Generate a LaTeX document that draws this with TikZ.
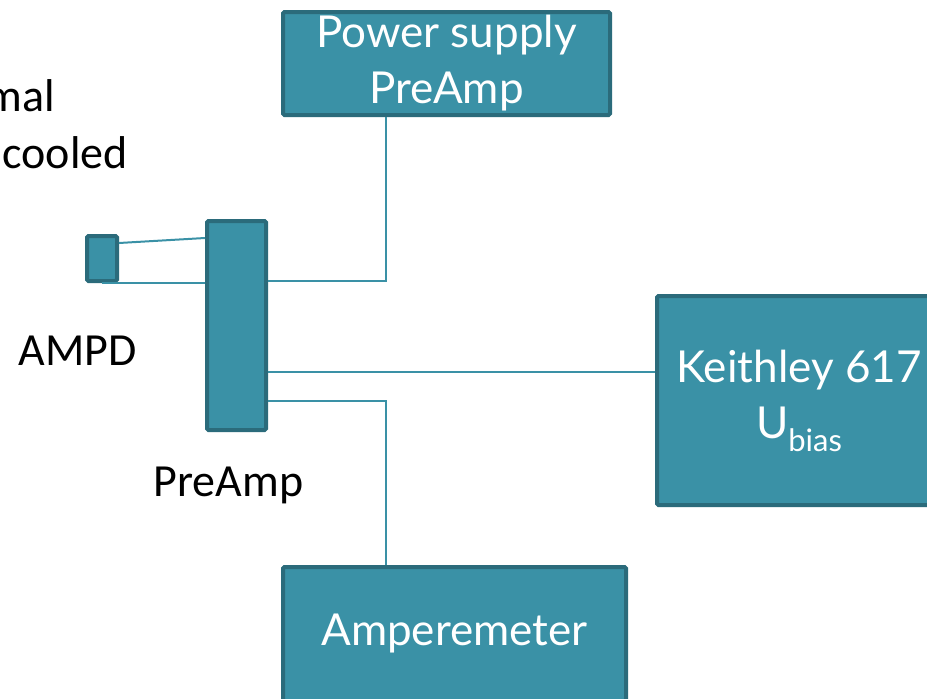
\documentclass[tikz,border=0pt]{standalone}
\usepackage{fontspec}
\setmainfont{Carlito}
\newfontfamily\boxfont{Lato}
\definecolor{boxfill}{HTML}{3A91A6}
\definecolor{boxedge}{HTML}{2B6B7B}
\tikzset{
  unit/.style={draw=boxedge, fill=boxfill, line width=4pt, rounded corners=1.5pt,
    inner sep=0pt, text=white, align=center,
    font=\boxfont\fontsize{44}{56}\selectfont},
  wire/.style={draw=boxfill, line width=2pt},
  tag/.style={font=\fontsize{46}{56}\selectfont, inner sep=0pt}
}
\begin{document}
\begin{tikzpicture}[x=1pt,y=-1pt]
\useasboundingbox (0,0) rectangle (927,699);
% boxes
\node[unit, minimum width=327, minimum height=103] (ps) at (446.5,63.5) {Power supply\\PreAmp};
\node[unit, minimum width=30, minimum height=45] (ampd) at (102,258.5) {};
\node[unit, minimum width=59, minimum height=209] (pre) at (236.5,325.5) {};
\node[unit, minimum width=284, minimum height=209] (keith) at (799,400.5)
  {Keithley 617\\U{\fontsize{31}{31}\selectfont\raisebox{-13pt}{bias}}};
\node[unit, minimum width=343, minimum height=134] (amp) at (454.5,634) {\raisebox{-5pt}{Amperemeter}};
% wires
\path ([yshift=-46.5]pre.east) coordinate (kin);
\draw[wire] ([yshift=15.5]ampd.east) -- ([yshift=87.5]pre.west);
\draw[wire] (ampd.south) -- (ampd.south -| pre.west);
\draw[wire] ([yshift=44.5]pre.east) -| ([xshift=-60.5]ps.south);
\draw[wire] (kin) -- (kin -| keith.west);
\draw[wire] ([yshift=-75.5]pre.east) -| ([xshift=-68.5]amp.north);
% labels
\node[tag, anchor=base east] (mal) at (55,111.7) {mal};
\node[tag, anchor=base east] (cooled) at (128,168) {cooled};
\node[tag, anchor=base] (ampdtag) at (78,365) {AMPD};
\node[tag, anchor=base] (pretag) at (228.5,496.7) {PreAmp};
\end{tikzpicture}
\end{document}
